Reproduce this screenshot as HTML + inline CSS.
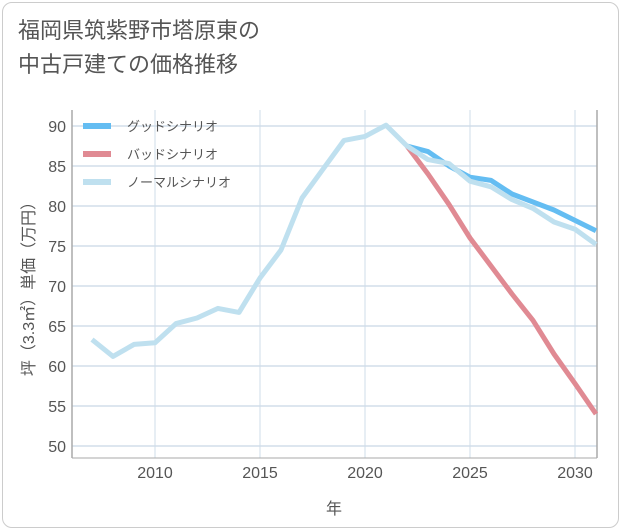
<!DOCTYPE html>
<html><head><meta charset="utf-8"><style>
body{margin:0;background:#fff;font-family:"Liberation Sans","Noto Sans CJK JP",sans-serif;}
#card{position:absolute;left:2px;top:2px;width:615px;height:524px;border:1px solid #ccc;border-radius:10px;background:#fff;}
#title{position:absolute;left:18px;top:14px;font-size:22px;line-height:34px;color:#555;}
svg{position:absolute;left:0;top:0;}
</style></head><body>
<div id="card"></div>
<div id="title">福岡県筑紫野市塔原東の<br>中古戸建ての価格推移</div>
<svg id="chart" width="621" height="530"></svg>
<script>
const yearsHist=[2007,2008,2009,2010,2011,2012,2013,2014,2015,2016,2017,2018,2019,2020,2021,2022,2023,2024,2025,2026,2027,2028,2029,2030,2031];
const normalVals=[63.3,61.2,62.7,62.9,65.3,66.0,67.2,66.7,71.0,74.5,81.0,84.6,88.2,88.7,90.1,87.5,85.8,85.3,83.1,82.4,80.8,79.7,78.0,77.1,75.2];
const yearsFut=[2022,2023,2024,2025,2026,2027,2028,2029,2030,2031];
const goodVals=[87.5,86.8,85.0,83.6,83.2,81.5,80.5,79.5,78.2,76.9];
const badVals=[87.5,84.0,80.2,76.0,72.5,69.0,65.7,61.5,57.8,54.0];
const yTicks=[50,55,60,65,70,75,80,85,90];
const xTicks=[2010,2015,2020,2025,2030];
const legendLabels=["グッドシナリオ","バッドシナリオ","ノーマルシナリオ"];
const colors=["#64bdf2","#e08a93","#bfe0ef"];
const L=72,R=597,T=110,B=458;
const X=y=>155+(y-2010)*21;
const Y=v=>446-(v-50)*8;
const svg=document.getElementById('chart');
const NS='http://www.w3.org/2000/svg';
function mk(t,a){const e=document.createElementNS(NS,t);for(const k in a)e.setAttribute(k,a[k]);svg.appendChild(e);return e;}
yTicks.forEach(v=>{
 const l=mk('line',{x1:L,x2:R,y1:Y(v),y2:Y(v),stroke:'#dde6ef','stroke-width':2});
 
 
 const t=mk('text',{x:66,y:Y(v)+6,'text-anchor':'end','font-size':16,fill:'#555'});
 t.textContent=v;
 
 
});
xTicks.forEach(v=>{
 const l=mk('line',{x1:X(v),x2:X(v),y1:T,y2:B,stroke:'#cfdce8','stroke-width':1});
 
 
 const t=mk('text',{x:X(v),y:478,'text-anchor':'middle','font-size':16,fill:'#555'});
 t.textContent=v;
 
 
});
const ax=mk('line',{x1:L,x2:L,y1:T,y2:B,stroke:'#aaa','stroke-width':1.5});


const ax2=mk('line',{x1:R,x2:R,y1:T,y2:B,stroke:'#aaa','stroke-width':1.5});


const ax3=mk('line',{x1:L,x2:R,y1:B,y2:B,stroke:'#aaa','stroke-width':1});


function line(xs,vs,c,name){
 const p=mk('polyline',{points:xs.map((x,i)=>X(x)+','+Y(vs[i])).join(' '),fill:'none',stroke:c,'stroke-width':5,'stroke-linejoin':'round'});
 
 
}
line(yearsFut,badVals,colors[1],'bad-scenario-line');
line(yearsFut,goodVals,colors[0],'good-scenario-line');
line(yearsHist,normalVals,colors[2],'normal-scenario-line');
legendLabels.forEach((s,i)=>{
 const y=126+i*28;
 const l=mk('line',{x1:83,x2:111,y1:y,y2:y,stroke:colors[i],'stroke-width':6});
 
 
 const t=mk('text',{x:127,y:y+5,'font-size':13,fill:'#555'});
 t.textContent=s;
 
 
});
const xt=mk('text',{x:334,y:514,'text-anchor':'middle','font-size':16,fill:'#555'});
xt.textContent='年';


const yt=mk('text',{x:0,y:0,'text-anchor':'middle','font-size':16,fill:'#555',transform:'translate(34,285) rotate(-90)'});
yt.textContent='坪（3.3㎡）単価（万円）';


</script>
</body></html>
